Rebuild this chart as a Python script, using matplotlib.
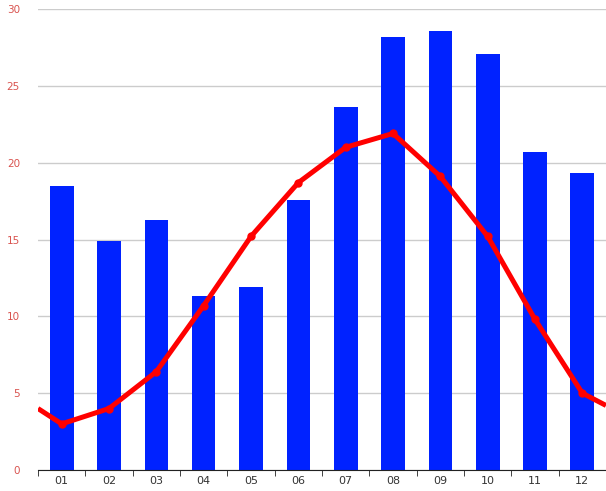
import matplotlib.pyplot as plt
import numpy as np

months = ["01", "02", "03", "04", "05", "06", "07", "08", "09", "10", "11", "12"]
rain = [18.5, 14.9, 16.3, 11.3, 11.9, 17.6, 23.6, 28.2, 28.6, 27.1, 20.7, 19.3]
temp = [3.0, 4.0, 6.4, 10.7, 15.2, 18.7, 21.0, 21.9, 19.1, 15.2, 9.8, 5.0]
# line runs on to the plot edges (wrap-around values)
temp_left = 4.0
temp_right = 4.2
yticks = [0, 5, 10, 15, 20, 25, 30]

fig = plt.figure(figsize=(6.06, 4.91), dpi=100)
ax = fig.add_axes([38 / 606, 21 / 491, 568 / 606, 461 / 491])

x = np.arange(len(months))
ax.bar(x, rain, width=0.5, color="#0022ff", zorder=2)

lx = np.concatenate([[-0.5], x, [11.5]])
ly = [temp_left] + temp + [temp_right]
ax.plot(lx, ly, color="#ff0000", lw=3.6, zorder=3, solid_capstyle="butt")
ax.plot(x, temp, "o", color="#ff0000", ms=5, zorder=4)

ax.set_xlim(-0.5, 11.5)
ax.set_ylim(0, 30)
ax.set_yticks(yticks)
ax.set_yticklabels([str(v) for v in yticks], color="#d9534f", fontsize=7.5)
ax.set_xticks(x)
ax.set_xticklabels(months, color="#333333", fontsize=8)
ax.set_xticks(np.arange(-0.5, 12, 1), minor=True)
ax.tick_params(axis="x", which="major", length=0, pad=4)
ax.tick_params(axis="x", which="minor", length=4, color="#222222")
ax.tick_params(axis="y", length=0, pad=13)
ax.grid(axis="y", color="#cccccc", lw=1, zorder=0)
ax.set_axisbelow(True)
for s in ["top", "right", "left"]:
    ax.spines[s].set_visible(False)
ax.spines["bottom"].set_color("#222222")

fig.savefig("out.png", dpi=100)
